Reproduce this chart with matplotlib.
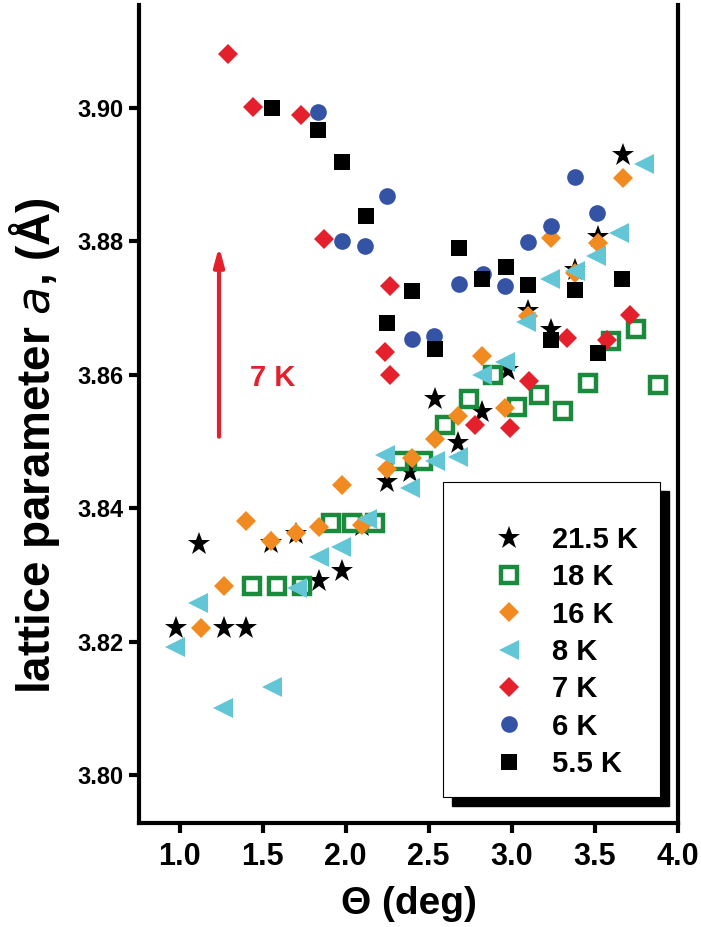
import matplotlib
matplotlib.use('Agg')
import matplotlib.pyplot as plt
from matplotlib import font_manager as fm
from matplotlib.patches import Rectangle

names = {f.name for f in fm.fontManager.ttflist}
NARROW = 'Liberation Sans Narrow' if 'Liberation Sans Narrow' in names else 'Liberation Sans'
plt.rcParams['font.family'] = ['Liberation Sans', 'DejaVu Sans']

# ---------------- data ----------------
labels = ['21.5 K', '18 K', '16 K', '8 K', '7 K', '6 K', '5.5 K']

x_215 = [0.98, 1.12, 1.27, 1.40, 1.55, 1.70, 1.84, 1.98, 2.10, 2.25, 2.39, 2.54, 2.68, 2.82, 2.98, 3.10, 3.24, 3.38, 3.52, 3.67]
y_215 = [3.8220, 3.8346, 3.8220, 3.8220, 3.8348, 3.8361, 3.8290, 3.8305, 3.8373, 3.8439, 3.8454, 3.8564, 3.8498, 3.8544, 3.8607, 3.8695, 3.8667, 3.8757, 3.8806, 3.8929]

x_18 = [1.435, 1.586, 1.736, 1.91, 2.04, 2.18, 2.32, 2.469, 2.599, 2.746, 2.89, 3.031, 3.167, 3.308, 3.463, 3.60, 3.75, 3.884]
y_18 = [3.8283, 3.8283, 3.8283, 3.8377, 3.8377, 3.8377, 3.8470, 3.8470, 3.8524, 3.8563, 3.8600, 3.8552, 3.8569, 3.8546, 3.8587, 3.8651, 3.8669, 3.8584]

x_16 = [1.13, 1.27, 1.40, 1.55, 1.70, 1.84, 1.98, 2.10, 2.25, 2.40, 2.54, 2.68, 2.82, 2.96, 3.10, 3.24, 3.38, 3.52, 3.67]
y_16 = [3.8221, 3.8283, 3.8381, 3.8350, 3.8362, 3.8371, 3.8435, 3.8374, 3.8458, 3.8475, 3.8503, 3.8538, 3.8628, 3.8550, 3.8688, 3.8805, 3.8752, 3.8797, 3.8895]

x_8 = [0.97, 1.11, 1.26, 1.555, 1.71, 1.84, 1.97, 2.13, 2.24, 2.39, 2.54, 2.68, 2.82, 2.96, 3.09, 3.23, 3.38, 3.51, 3.65, 3.80]
y_8 = [3.8192, 3.8257, 3.8100, 3.8132, 3.8280, 3.8327, 3.8341, 3.8383, 3.8480, 3.8430, 3.8470, 3.8477, 3.8600, 3.8619, 3.8679, 3.8744, 3.8756, 3.8778, 3.8812, 3.8916]

x_7 = [1.29, 1.445, 1.73, 1.87, 2.24, 2.27, 2.27, 2.78, 2.99, 3.105, 3.335, 3.575, 3.715]
y_7 = [3.9080, 3.9001, 3.8989, 3.8804, 3.8634, 3.8733, 3.8600, 3.8524, 3.8520, 3.8591, 3.8655, 3.8652, 3.8690]

x_6 = [1.836, 1.977, 2.119, 2.252, 2.402, 2.535, 2.684, 2.826, 2.963, 3.099, 3.236, 3.383, 3.517]
y_6 = [3.8994, 3.8800, 3.8793, 3.8867, 3.8654, 3.8658, 3.8736, 3.8751, 3.8733, 3.8799, 3.8823, 3.8896, 3.8842]

x_55 = [1.555, 1.836, 1.977, 2.122, 2.248, 2.399, 2.539, 2.684, 2.822, 2.965, 3.099, 3.236, 3.382, 3.519, 3.664]
y_55 = [3.8999, 3.8966, 3.8919, 3.8838, 3.8678, 3.8726, 3.8638, 3.8790, 3.8743, 3.8762, 3.8734, 3.8652, 3.8727, 3.8633, 3.8744]

xticks = [1.0, 1.5, 2.0, 2.5, 3.0, 3.5, 4.0]
yticks = [3.80, 3.82, 3.84, 3.86, 3.88, 3.90]

# ---------------- figure ----------------
W, H = 701, 927
fig = plt.figure(figsize=(W / 100, H / 100), dpi=100)
L, R, T, B = 139, 678, 5, 823
ax = fig.add_axes([L / W, 1 - B / H, (R - L) / W, (B - T) / H])

styles = [
    dict(marker='*', color='black', ms=17, mec='black', mew=0),
    dict(marker='s', mfc='white', mec='#1b8a3c', mew=3.2, ms=11),
    dict(marker='D', color='#f28a22', ms=10.5, mew=0),
    dict(marker='<', color='#63c6d6', ms=15, mew=0),
    dict(marker='D', color='#e3202b', ms=10.5, mew=0),
    dict(marker='o', color='#3553a5', ms=12, mew=0),
    dict(marker='s', color='black', ms=11, mew=0),
]
series = [(x_215, y_215), (x_18, y_18), (x_16, y_16), (x_8, y_8), (x_7, y_7), (x_6, y_6), (x_55, y_55)]
handles = []
for (xs, ys), st, lab in zip(series, styles, labels):
    h, = ax.plot(xs, ys, linestyle='none', label=lab, **st)
    handles.append(h)

ax.set_xlim(0.756, 4.003)
ax.set_ylim(3.7928, 3.9154)
ax.set_xticks(xticks)
ax.set_xticklabels([f'{v:.1f}' for v in xticks], fontfamily=NARROW, fontweight='bold', fontsize=22)
ax.set_yticks(yticks)
ax.set_yticklabels([f'{v:.2f}' for v in yticks], fontweight='bold', fontsize=17)
ax.tick_params(axis='both', direction='out', length=7, width=3, pad=4)
ax.tick_params(axis='x', pad=7)
for s in ['left', 'right', 'bottom']:
    ax.spines[s].set_linewidth(3)
ax.spines['top'].set_visible(False)

ax.set_xlabel('Θ (deg)', fontfamily=NARROW, fontweight='bold', fontsize=28, labelpad=10)
ax.set_ylabel('lattice parameter $\\mathit{a}$, (Å)', fontfamily=NARROW, fontweight='bold', fontsize=33)
ax.yaxis.set_label_coords(-0.143, 0.462)

# arrow + 7 K annotation
ax.annotate('', xy=(1.238, 3.8792), xytext=(1.238, 3.8507),
            arrowprops=dict(arrowstyle='-|>,head_length=1.1,head_width=0.3', color='#e3202b', lw=3,
                            shrinkA=0, shrinkB=0))
ax.text(1.56, 3.8595, '7 K', color='#e3202b', fontsize=21, fontweight='bold', ha='center', va='center')

# legend frame with drop shadow
bx0, by0, bx1, by1 = 443, 482, 660, 797
off = 9
fig.add_artist(Rectangle(((bx0 + off) / W, 1 - (by1 + off) / H), (bx1 - bx0) / W, (by1 - by0) / H,
                         transform=fig.transFigure, facecolor='black', edgecolor='black', zorder=5))
fig.add_artist(Rectangle((bx0 / W, 1 - by1 / H), (bx1 - bx0) / W, (by1 - by0) / H,
                         transform=fig.transFigure, facecolor='white', edgecolor='black', lw=0.8, zorder=6))
leg = fig.legend(handles=handles, loc='upper left', bbox_to_anchor=(494 / W, 1 - 526 / H),
                 frameon=False, borderaxespad=0, borderpad=0, handlelength=1.0, handletextpad=1.0,
                 labelspacing=0.32, prop={'weight': 'bold', 'size': 21}, numpoints=1)
leg.set_zorder(7)

fig.savefig('out.png', dpi=100)
